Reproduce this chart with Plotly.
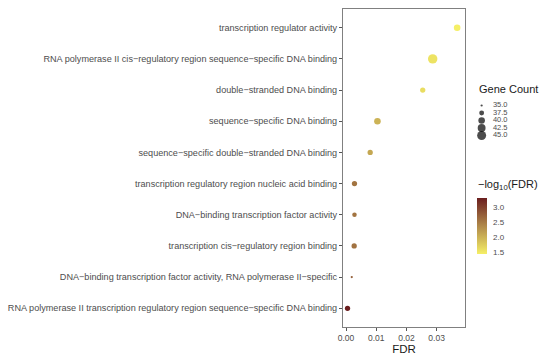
import math
import plotly.graph_objects as go

# ---------------- data ----------------
terms = [
    "transcription regulator activity",
    "RNA polymerase II cis\u2212regulatory region sequence\u2212specific DNA binding",
    "double\u2212stranded DNA binding",
    "sequence\u2212specific DNA binding",
    "sequence\u2212specific double\u2212stranded DNA binding",
    "transcription regulatory region nucleic acid binding",
    "DNA\u2212binding transcription factor activity",
    "transcription cis\u2212regulatory region binding",
    "DNA\u2212binding transcription factor activity, RNA polymerase II\u2212specific",
    "RNA polymerase II transcription regulatory region sequence\u2212specific DNA binding",
]
fdr = [0.0368, 0.0287, 0.0254, 0.0104, 0.0080, 0.0028, 0.0028, 0.0027, 0.0019, 0.0005]
gene_count = [40, 46, 38, 40, 38, 38, 37, 38, 35, 38]

size_legend_values = [35.0, 37.5, 40.0, 42.5, 45.0]
colorbar_ticks = [1.5, 2.0, 2.5, 3.0]
x_ticks = [0.00, 0.01, 0.02, 0.03]

# ---------------- styling helpers ----------------
FONT = "Liberation Sans, Arial, sans-serif"
GREY = "#4d4d4d"
W, H = 550, 359
ML, MR, MT, MB = 343, 0, 9, 32
PW = W - ML - MR
PH = H - MT - MB


def px_x(p):  # pixel x -> paper fraction
    return (p - ML) / PW


def px_y(p):  # pixel y -> paper fraction
    return (H - MB - p) / PH


def diam(c):
    return math.sqrt(5 + 7.6 * (c - 35))


neglog = [-math.log10(v) for v in fdr]
colorscale = [[0.0, "#f5ef66"], [0.5, "#b0894a"], [1.0, "#6a1e1f"]]

fig = go.Figure()

fig.add_trace(go.Scatter(
    x=fdr, y=terms, mode="markers",
    marker=dict(
        size=[diam(c) for c in gene_count],
        color=neglog, colorscale=colorscale,
        cmin=min(neglog), cmax=max(neglog),
        line=dict(width=0), opacity=1,
        colorbar=dict(
            x=px_x(477), xanchor="left",
            y=px_y(226), yanchor="middle",
            len=56, lenmode="pixels",
            thickness=10, outlinewidth=0,
            tickvals=colorbar_ticks, ticktext=[f"{v:.1f}" for v in colorbar_ticks],
            ticks="outside", ticklen=5, tickcolor="rgba(0,0,0,0)",
            tickfont=dict(family=FONT, size=8, color=GREY),
            ticklabelposition="outside",
            xpad=0, ypad=0,
        ),
    ),
    showlegend=False, hoverinfo="x+y",
))

# size legend drawn on its own invisible axes
fig.add_trace(go.Scatter(
    x=[0] * len(size_legend_values), y=size_legend_values, mode="markers",
    marker=dict(size=[diam(v) for v in size_legend_values], color="#000000", line=dict(width=0)),
    xaxis="x2", yaxis="y2", showlegend=False, hoverinfo="skip", cliponaxis=False,
))
fig.add_trace(go.Scatter(
    x=[1.6] * len(size_legend_values), y=size_legend_values, mode="text",
    text=[f"{v:.1f}" for v in size_legend_values], textposition="middle right",
    textfont=dict(family=FONT, size=7.5, color=GREY),
    xaxis="x2", yaxis="y2", showlegend=False, hoverinfo="skip", cliponaxis=False,
))

fig.update_layout(
    width=W, height=H,
    margin=dict(l=ML, r=MR, t=MT, b=MB, autoexpand=False),
    paper_bgcolor="white", plot_bgcolor="white",
    font=dict(family=FONT, color=GREY),
    xaxis=dict(
        domain=[0, px_x(465)],
        range=[-0.001, 0.0394],
        tickvals=x_ticks, ticktext=[f"{v:.2f}" for v in x_ticks],
        tickfont=dict(family=FONT, size=8.5, color=GREY),
        ticks="outside", ticklen=3, tickcolor="#555555", tickwidth=1,
        showgrid=False, zeroline=False,
        showline=True, mirror=True, linecolor="#808080", linewidth=1,
        title=dict(text="FDR", font=dict(family=FONT, size=11.5, color="#1a1a1a"), standoff=2),
        automargin=False,
    ),
    yaxis=dict(
        type="category", categoryorder="array", categoryarray=terms,
        range=[len(terms) - 0.4, -0.6],
        tickfont=dict(family=FONT, size=9.1, color=GREY),
        ticks="outside", ticklen=3, tickcolor="#555555", tickwidth=1,
        showgrid=False, zeroline=False,
        showline=True, mirror=True, linecolor="#808080", linewidth=1,
        automargin=False,
    ),
    xaxis2=dict(
        domain=[px_x(476), px_x(550)], range=[-0.8, 9.7],
        visible=False, fixedrange=True,
    ),
    yaxis2=dict(
        domain=[px_y(135.5), px_y(105.5)], range=[45, 35],
        visible=False, fixedrange=True, anchor="x2",
    ),
    annotations=[
        dict(text="Gene Count", x=px_x(477), y=px_y(89), xref="paper", yref="paper",
             xanchor="left", yanchor="middle", showarrow=False,
             font=dict(family=FONT, size=11, color="#1a1a1a")),
        dict(text="\u2212log<sub>10</sub>(FDR)", x=px_x(476), y=px_y(185), xref="paper", yref="paper",
             xanchor="left", yanchor="middle", showarrow=False,
             font=dict(family=FONT, size=11, color="#1a1a1a")),
    ],
)

fig.write_html("out.html", config={"displayModeBar": False},
               post_script="document.body.style.margin='0';document.body.style.padding='0';")
